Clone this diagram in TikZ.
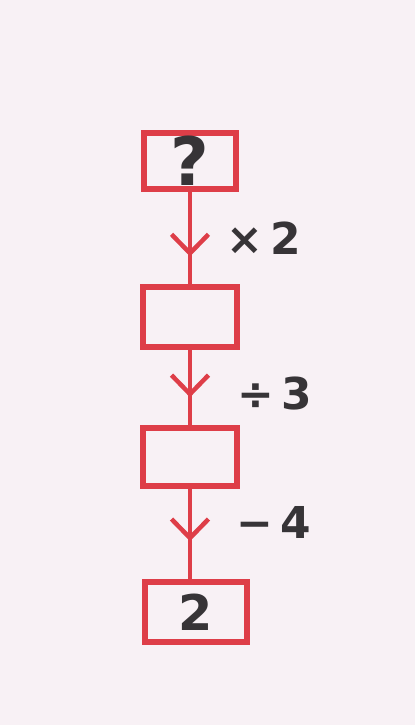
\documentclass[tikz,border=0pt]{standalone}
\usepackage{fontspec}
\setmainfont{DejaVu Sans}
\usetikzlibrary{arrows.meta, decorations.markings}
\definecolor{paper}{RGB}{248,241,245}
\definecolor{pen}{RGB}{222,62,72}
\definecolor{ink}{RGB}{55,52,55}
\tikzset{
    stepbox/.style={draw=pen, line width=0.11cm, inner sep=0pt, text=ink,
        font=\bfseries\fontsize{28}{32}\selectfont},
    flow/.style={draw=pen, line width=0.09cm, postaction={decorate},
        decoration={markings, mark=at position #1 with
            {\arrow[pen]{Straight Barb[length=0.38cm, width=0.74cm, line width=0.09cm]}}}},
    oplabel/.style={text=ink, font=\bfseries\fontsize{25}{30}\selectfont}
}
\begin{document}
\begin{tikzpicture}[x=0.02cm, y=-0.02cm]
    \def\bw{94}   % box width (px)
    \def\bh{58}   % box height (px)
    % Paper
    \fill[paper] (0,0) rectangle (415,725);
    \useasboundingbox (0,0) rectangle (415,725);
    % Boxes
    \node[stepbox, minimum width={92*0.02cm}, minimum height={56*0.02cm},
        font=\bfseries\fontsize{38}{40}\selectfont] (start) at (190,161) {?};
    \node[stepbox, minimum width={\bw*0.02cm}, minimum height={60*0.02cm}] (double) at (190,317) {};
    \node[stepbox, minimum width={\bw*0.02cm}, minimum height={\bh*0.02cm}] (third) at (190,457) {};
    \node[stepbox, minimum width={102*0.02cm}, minimum height={60*0.02cm}] (result) at (196,612) {2};
    % Connectors
    \draw[flow=0.7] (start.south) -- (double.north);
    \draw[flow=0.63] (double.south) -- (third.north);
    \draw[flow=0.58] (third.south) -- (third.south |- result.north);
    % Operations
    \node[oplabel] (times) at (264,238) {×\,2};
    \node[oplabel] (divide) at (275,394) {÷\,3};
    \node[oplabel] (minus) at (274,522) {−\,4};
\end{tikzpicture}
\end{document}
